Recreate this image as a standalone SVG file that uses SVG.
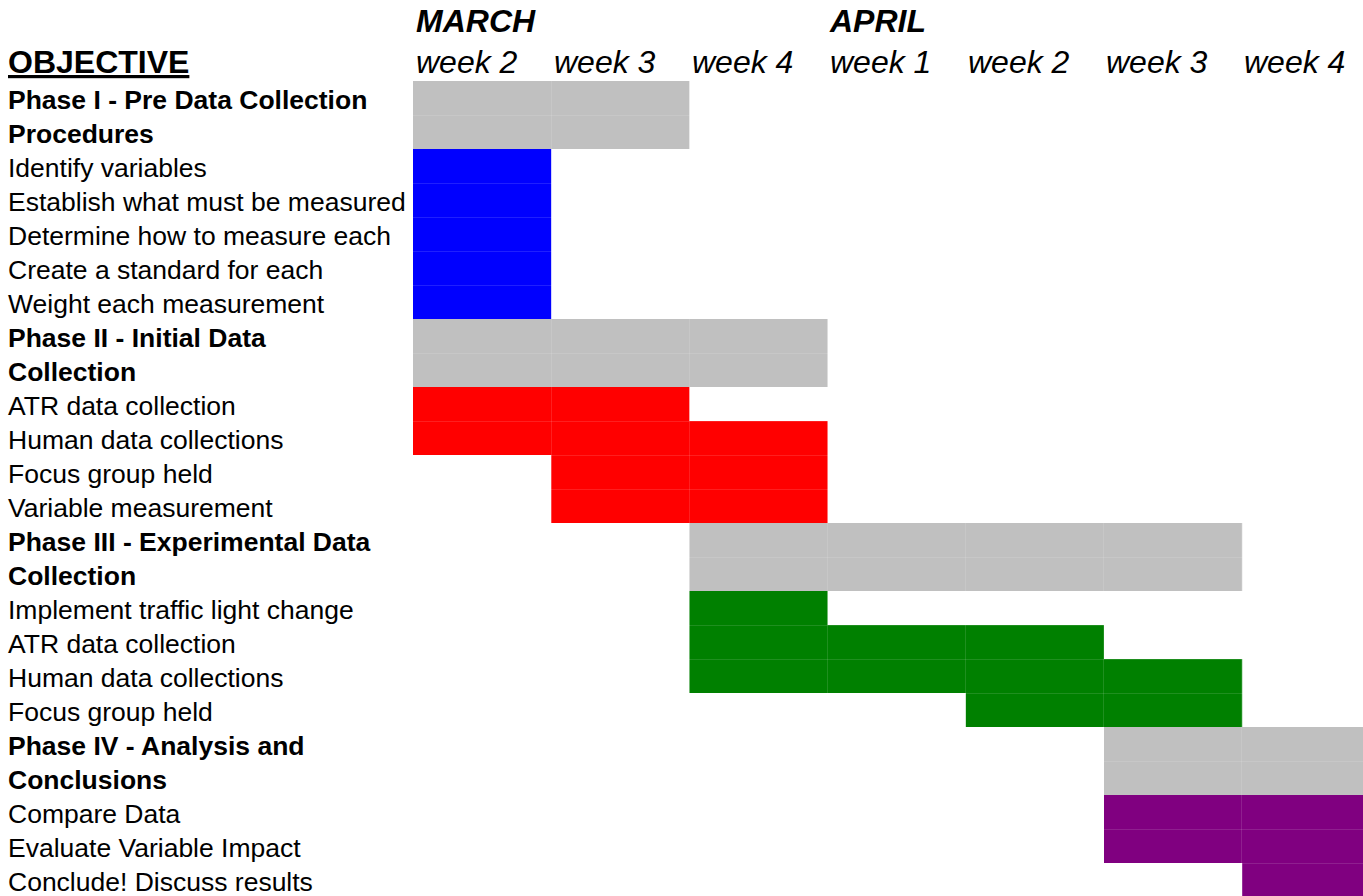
<svg xmlns="http://www.w3.org/2000/svg" width="1363" height="896" viewBox="0 0 1363 896">
<style>
text{font-family:"Liberation Sans",Arial,sans-serif;fill:#000}
.lbl{font-size:26.5px}
.b{font-weight:bold}
.hd{font-size:32px;font-style:italic}
.mo{font-size:32px;font-style:italic;font-weight:bold}
.gray{fill:#C0C0C0}
.blue{fill:#0000FF}
.red{fill:#FF0000}
.green{fill:#008000}
.purple{fill:#800080}
.grid line{stroke:#fff;stroke-opacity:0.12;stroke-width:1}
</style>
<rect width="1363" height="896" fill="#fff"/>
<g id="header">
<text class="mo" x="416" y="32">MARCH</text>
<text class="mo" x="830" y="32">APRIL</text>
<text class="lbl b" x="8" y="73" style="font-size:32px" text-decoration="underline">OBJECTIVE</text>
<text class="hd" x="416" y="73">week 2</text>
<text class="hd" x="554" y="73">week 3</text>
<text class="hd" x="692" y="73">week 4</text>
<text class="hd" x="830" y="73">week 1</text>
<text class="hd" x="968" y="73">week 2</text>
<text class="hd" x="1106" y="73">week 3</text>
<text class="hd" x="1244" y="73">week 4</text>
</g>
<g id="labels">
<text class="lbl b" x="8" y="109">Phase I - Pre Data Collection</text>
<text class="lbl b" x="8" y="143">Procedures</text>
<text class="lbl" x="8" y="177">Identify variables</text>
<text class="lbl" x="8" y="211">Establish what must be measured</text>
<text class="lbl" x="8" y="245">Determine how to measure each</text>
<text class="lbl" x="8" y="279">Create a standard for each</text>
<text class="lbl" x="8" y="313">Weight each measurement</text>
<text class="lbl b" x="8" y="347">Phase II - Initial Data</text>
<text class="lbl b" x="8" y="381">Collection</text>
<text class="lbl" x="8" y="415">ATR data collection</text>
<text class="lbl" x="8" y="449">Human data collections</text>
<text class="lbl" x="8" y="483">Focus group held</text>
<text class="lbl" x="8" y="517">Variable measurement</text>
<text class="lbl b" x="8" y="551">Phase III - Experimental Data</text>
<text class="lbl b" x="8" y="585">Collection</text>
<text class="lbl" x="8" y="619">Implement traffic light change</text>
<text class="lbl" x="8" y="653">ATR data collection</text>
<text class="lbl" x="8" y="687">Human data collections</text>
<text class="lbl" x="8" y="721">Focus group held</text>
<text class="lbl b" x="8" y="755">Phase IV - Analysis and</text>
<text class="lbl b" x="8" y="789">Conclusions</text>
<text class="lbl" x="8" y="823">Compare Data</text>
<text class="lbl" x="8" y="857">Evaluate Variable Impact</text>
<text class="lbl" x="8" y="891">Conclude! Discuss results</text>
</g>
<g id="phase1">
<rect class="gray" x="413" y="81" width="276.4" height="68"/>
<rect class="blue" x="413" y="149" width="138.2" height="170"/>
</g>
<g id="phase2">
<rect class="gray" x="413" y="319" width="414.6" height="68"/>
<rect class="red" x="413" y="387" width="276.4" height="34"/>
<rect class="red" x="413" y="421" width="414.6" height="34"/>
<rect class="red" x="551.2" y="455" width="276.4" height="68"/>
</g>
<g id="phase3">
<rect class="gray" x="689.4" y="523" width="552.8" height="68"/>
<rect class="green" x="689.4" y="591" width="138.2" height="34"/>
<rect class="green" x="689.4" y="625" width="414.6" height="34"/>
<rect class="green" x="689.4" y="659" width="552.8" height="34"/>
<rect class="green" x="965.8" y="693" width="276.4" height="34"/>
</g>
<g id="phase4">
<rect class="gray" x="1104" y="727" width="259" height="68"/>
<rect class="purple" x="1104" y="795" width="259" height="68"/>
<rect class="purple" x="1242.2" y="863" width="120.8" height="33"/>
</g>
<g id="connectors" class="grid">
<line x1="413" y1="115.5" x2="1363" y2="115.5"/>
<line x1="413" y1="183.5" x2="1363" y2="183.5"/>
<line x1="413" y1="217.5" x2="1363" y2="217.5"/>
<line x1="413" y1="251.5" x2="1363" y2="251.5"/>
<line x1="413" y1="285.5" x2="1363" y2="285.5"/>
<line x1="413" y1="353.5" x2="1363" y2="353.5"/>
<line x1="413" y1="421.5" x2="1363" y2="421.5"/>
<line x1="413" y1="455.5" x2="1363" y2="455.5"/>
<line x1="413" y1="489.5" x2="1363" y2="489.5"/>
<line x1="413" y1="557.5" x2="1363" y2="557.5"/>
<line x1="413" y1="625.5" x2="1363" y2="625.5"/>
<line x1="413" y1="659.5" x2="1363" y2="659.5"/>
<line x1="413" y1="693.5" x2="1363" y2="693.5"/>
<line x1="413" y1="761.5" x2="1363" y2="761.5"/>
<line x1="413" y1="829.5" x2="1363" y2="829.5"/>
<line x1="413" y1="863.5" x2="1363" y2="863.5"/>
<line x1="551.5" y1="81" x2="551.5" y2="896"/>
<line x1="689.5" y1="81" x2="689.5" y2="896"/>
<line x1="827.5" y1="81" x2="827.5" y2="896"/>
<line x1="965.5" y1="81" x2="965.5" y2="896"/>
<line x1="1103.5" y1="81" x2="1103.5" y2="896"/>
<line x1="1241.5" y1="81" x2="1241.5" y2="896"/>
</g>
</svg>
